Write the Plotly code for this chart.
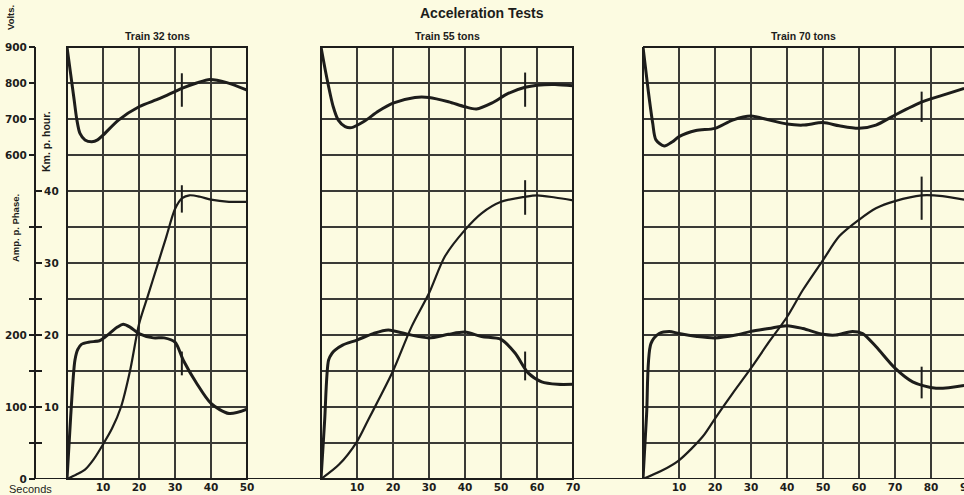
import plotly.graph_objects as go

# ---------------- data ----------------
# Train 32 tons
t1_volt = [0, 1, 2, 2.7, 3.6, 5, 6.9, 8.5, 10, 14.3, 20, 25.8, 31.9, 36, 39.7, 44.4, 50]
volt1 = [900, 826, 752, 700, 660, 642, 637, 642, 655, 697, 734, 757, 785, 800, 810, 801, 780]
t1_speed = [0, 2.5, 5, 7.5, 10, 12.5, 15, 17.5, 20, 22.5, 25, 27.5, 30, 32, 34, 37, 40, 45, 50]
speed1 = [0, 0.6, 1.3, 2.8, 4.8, 7.0, 10, 15, 21.5, 25.5, 29.5, 33.5, 37.5, 39, 39.4, 39.2, 38.8, 38.5, 38.5]
t1_amp = [0, 1, 2.2, 3, 4, 6, 9, 10, 12, 14, 15.6, 17.5, 20, 24, 27, 30, 32.3, 36, 40, 45, 50]
amp1 = [0, 85, 165, 180, 187, 190, 192, 195, 203, 211, 215, 211, 202, 196, 196, 190, 165, 133, 105, 91, 97]

# Train 55 tons
t2_volt = [0, 1.5, 3.4, 4.8, 6.7, 8.5, 11.9, 16, 20, 26.1, 30, 35.4, 40, 43.2, 47.4, 52, 56.7, 60, 65, 70]
volt2 = [900, 820, 734, 697, 679, 676, 693, 722, 744, 760, 760, 748, 734, 728, 744, 771, 788, 794, 796, 792]
t2_speed = [0, 5, 10, 13.1, 16, 20, 25.2, 30, 34.4, 40, 44.6, 50, 56.7, 60, 65, 70]
speed2 = [0, 2.0, 5.2, 8.2, 11.0, 15.0, 21.2, 25.8, 30.9, 34.6, 36.9, 38.5, 39.2, 39.4, 39.1, 38.7]
t2_amp = [0, 1, 2.1, 3, 3.9, 6, 10, 14.5, 18.7, 24, 30, 35.4, 40, 44.6, 50, 53.9, 57.6, 61.3, 65.7, 70]
amp2 = [0, 80, 165, 174, 179, 186, 193, 202, 207, 201, 196, 201, 204, 198, 194, 175, 147, 135, 131.5, 131.5]

# Train 70 tons
t3_volt = [0, 1.5, 2.7, 3.6, 5.9, 8.2, 10, 14.7, 20, 24.9, 30, 35.1, 40, 44.4, 50, 54.5, 60, 64.7, 70, 77.7, 84.2, 89.2]
volt3 = [900, 775, 688, 642, 625, 637, 651, 668, 674, 697, 708, 697, 686, 683, 690, 681, 674, 683, 711, 748, 769, 785]
t3_speed = [0, 5, 10, 16.6, 20, 24.9, 30, 35.1, 40, 44.4, 50, 54.5, 60, 64.7, 70, 77.4, 83.2, 89.2]
speed3 = [0, 1.1, 2.6, 5.9, 8.4, 11.9, 15.4, 19.1, 22.5, 26.25, 30.4, 33.7, 36, 37.6, 38.6, 39.4, 39.3, 38.8]
t3_amp = [0, 1, 2.2, 4.5, 7.3, 10, 15, 20, 25.8, 30, 35, 40, 44.4, 50, 53.6, 58.2, 61, 64.7, 70, 74.9, 81.4, 89.2]
amp3 = [0, 90, 188, 202, 205, 202, 198, 196, 200, 205, 209, 213, 209, 201, 200, 205, 202, 184, 154, 135, 126, 130]

# end-of-acceleration markers (time, volt range, speed range, amp range)
mark_t = [31.9, 56.7, 77.4]
mark_volt = [(827, 734), (829, 734), (776, 692)]
mark_speed = [(40.8, 37.0), (41.5, 36.7), (42.0, 36.0)]
mark_amp = [(177, 144), (177, 137), (156, 112)]

panel_titles = ["Train 32 tons", "Train 55 tons", "Train 70 tons"]
panel_seconds = [50, 70, 90]

# ---------------- figure ----------------
W, H = 964, 495
BG = "#FCFBE1"
INK = "#1d1d1b"
GRID = "#3a3a36"

fig = go.Figure()

panels = [
    ("x", t1_volt, volt1, t1_speed, speed1, t1_amp, amp1),
    ("x2", t2_volt, volt2, t2_speed, speed2, t2_amp, amp2),
    ("x3", t3_volt, volt3, t3_speed, speed3, t3_amp, amp3),
]
for i, (xa, tv, v, ts, s, ta, a) in enumerate(panels):
    fig.add_trace(go.Scatter(x=ts, y=s, xaxis=xa, yaxis="y", mode="lines",
                             line=dict(color=INK, width=2.2, shape="spline", smoothing=0.8),
                             hoverinfo="skip"))
    fig.add_trace(go.Scatter(x=tv, y=v, xaxis=xa, yaxis="y2", mode="lines",
                             line=dict(color=INK, width=3, shape="spline", smoothing=0.8),
                             hoverinfo="skip"))
    fig.add_trace(go.Scatter(x=ta, y=a, xaxis=xa, yaxis="y3", mode="lines",
                             line=dict(color=INK, width=3, shape="spline", smoothing=0.8),
                             hoverinfo="skip"))
    mt = mark_t[i]
    fig.add_trace(go.Scatter(x=[mt, mt], y=list(mark_volt[i]), xaxis=xa, yaxis="y2",
                             mode="lines", line=dict(color=INK, width=2), hoverinfo="skip"))
    fig.add_trace(go.Scatter(x=[mt, mt], y=list(mark_speed[i]), xaxis=xa, yaxis="y",
                             mode="lines", line=dict(color=INK, width=2), hoverinfo="skip"))
    fig.add_trace(go.Scatter(x=[mt, mt], y=list(mark_amp[i]), xaxis=xa, yaxis="y3",
                             mode="lines", line=dict(color=INK, width=2), hoverinfo="skip"))

ydom = [1 - 479 / H, 1 - 47 / H]
tickfont = dict(family="DejaVu Sans", size=10.5, color=INK, weight="bold")

xdoms = [[67 / W, 247 / W], [321 / W, 573 / W], [643 / W, 1.0]]
xranges = [[0, 50], [0, 70], [0, (W - 643) / 3.6]]
for i, name in enumerate(["xaxis", "xaxis2", "xaxis3"]):
    vals = list(range(0, panel_seconds[i] + 1, 10))
    fig.layout[name] = dict(
        domain=xdoms[i], range=xranges[i], anchor="y",
        tickmode="array", tickvals=vals, ticktext=[""] + [str(x) for x in vals[1:]],
        showgrid=True, gridcolor=GRID, gridwidth=1.5,
        ticks="", showline=False, zeroline=False, tickfont=tickfont,
        automargin=False, fixedrange=True,
    )

speed_vals = [5, 10, 15, 20, 25, 30, 35, 40]
fig.update_layout(
    yaxis=dict(domain=ydom, range=[0, 60], anchor="free", position=35 / W, side="right",
               showline=True, linecolor=INK, linewidth=2,
               tickmode="array", tickvals=speed_vals,
               ticktext=["" if v % 10 else str(v) for v in speed_vals],
               ticks="outside", ticklen=6, tickwidth=1.6, tickcolor=INK,
               showgrid=True, gridcolor=GRID, gridwidth=1.5, zeroline=False,
               minor=dict(tickmode="array", tickvals=[0, 45, 50, 55, 60], showgrid=True,
                          gridcolor=GRID, gridwidth=1.5, ticks=""),
               tickfont=tickfont, automargin=False, fixedrange=True),
    yaxis2=dict(overlaying="y", range=[-300, 900], anchor="free", position=35 / W, side="left",
                tickmode="array", tickvals=[600, 700, 800, 900],
                ticks="outside", ticklen=6, tickwidth=1.6, tickcolor=INK,
                showgrid=False, zeroline=False, showline=False, tickfont=tickfont,
                automargin=False, fixedrange=True),
    yaxis3=dict(overlaying="y", range=[0, 600], anchor="free", position=35 / W, side="left",
                tickmode="array", tickvals=[0, 50, 100, 150, 200, 250, 350],
                ticktext=["0", "", "100", "", "200", "", ""],
                ticks="outside", ticklen=6, tickwidth=1.6, tickcolor=INK,
                showgrid=False, zeroline=False, showline=False, tickfont=tickfont,
                automargin=False, fixedrange=True),
)

# panel borders and long baseline
border = dict(color=INK, width=2)
for xr in ["x", "x2"]:
    fig.add_shape(type="rect", xref=f"{xr} domain", yref="y domain", x0=0, x1=1, y0=0, y1=1,
                  line=border, layer="above")
fig.add_shape(type="line", xref="x3 domain", yref="y domain", x0=0, x1=0, y0=0, y1=1, line=border)
fig.add_shape(type="line", xref="x3 domain", yref="y domain", x0=0, x1=1, y0=1, y1=1, line=border)
fig.add_shape(type="line", xref="paper", yref="y", x0=35 / W, x1=1, y0=0, y1=0, line=border)

# texts
def pann(text, px, py, font, angle=0):
    return dict(text=text, x=px / W, y=1 - py / H, xref="paper", yref="paper",
                xanchor="center", yanchor="middle", showarrow=False, textangle=angle,
                font=font)

ann = [pann("Acceleration Tests", 482, 13,
            dict(family="Liberation Sans", size=14, color=INK, weight="bold"))]
for i, txt in enumerate(panel_titles):
    ann.append(pann(txt, [157, 447, 803][i], 36,
                    dict(family="Liberation Sans", size=10.5, color=INK, weight="bold")))
side_font = dict(family="Liberation Sans", size=9.5, color=INK, weight="bold")
ann.append(pann("Volts.", 10, 18, side_font, -90))
ann.append(pann("Km. p. hour.", 46, 142, dict(family="Liberation Sans", size=10.5, color=INK,
                                               weight="bold"), -90))
ann.append(pann("Amp. p. Phase.", 15, 228, side_font, -90))
ann.append(pann("Seconds", 31, 489, dict(family="Liberation Sans", size=11, color=INK)))
# the "90" label of the last panel, partly cut by the right edge (placed in x3-domain units)
x3_span = xranges[2][1] - xranges[2][0]
ann.append(dict(text="90", x=panel_seconds[2] / x3_span, y=1 - 487 / H,
                xref="x3 domain", yref="paper",
                xanchor="center", yanchor="middle", showarrow=False, font=tickfont))

fig.update_layout(
    annotations=ann,
    width=W, height=H, autosize=False,
    margin=dict(l=0, r=0, t=0, b=0, pad=0, autoexpand=False),
    paper_bgcolor=BG, plot_bgcolor=BG,
    showlegend=False,
)

fig.write_html(
    "out.html",
    config={"displayModeBar": False, "staticPlot": True},
    post_script="document.body.style.margin='0';document.body.style.overflow='hidden';"
                "document.body.style.background='" + BG + "';",
)
